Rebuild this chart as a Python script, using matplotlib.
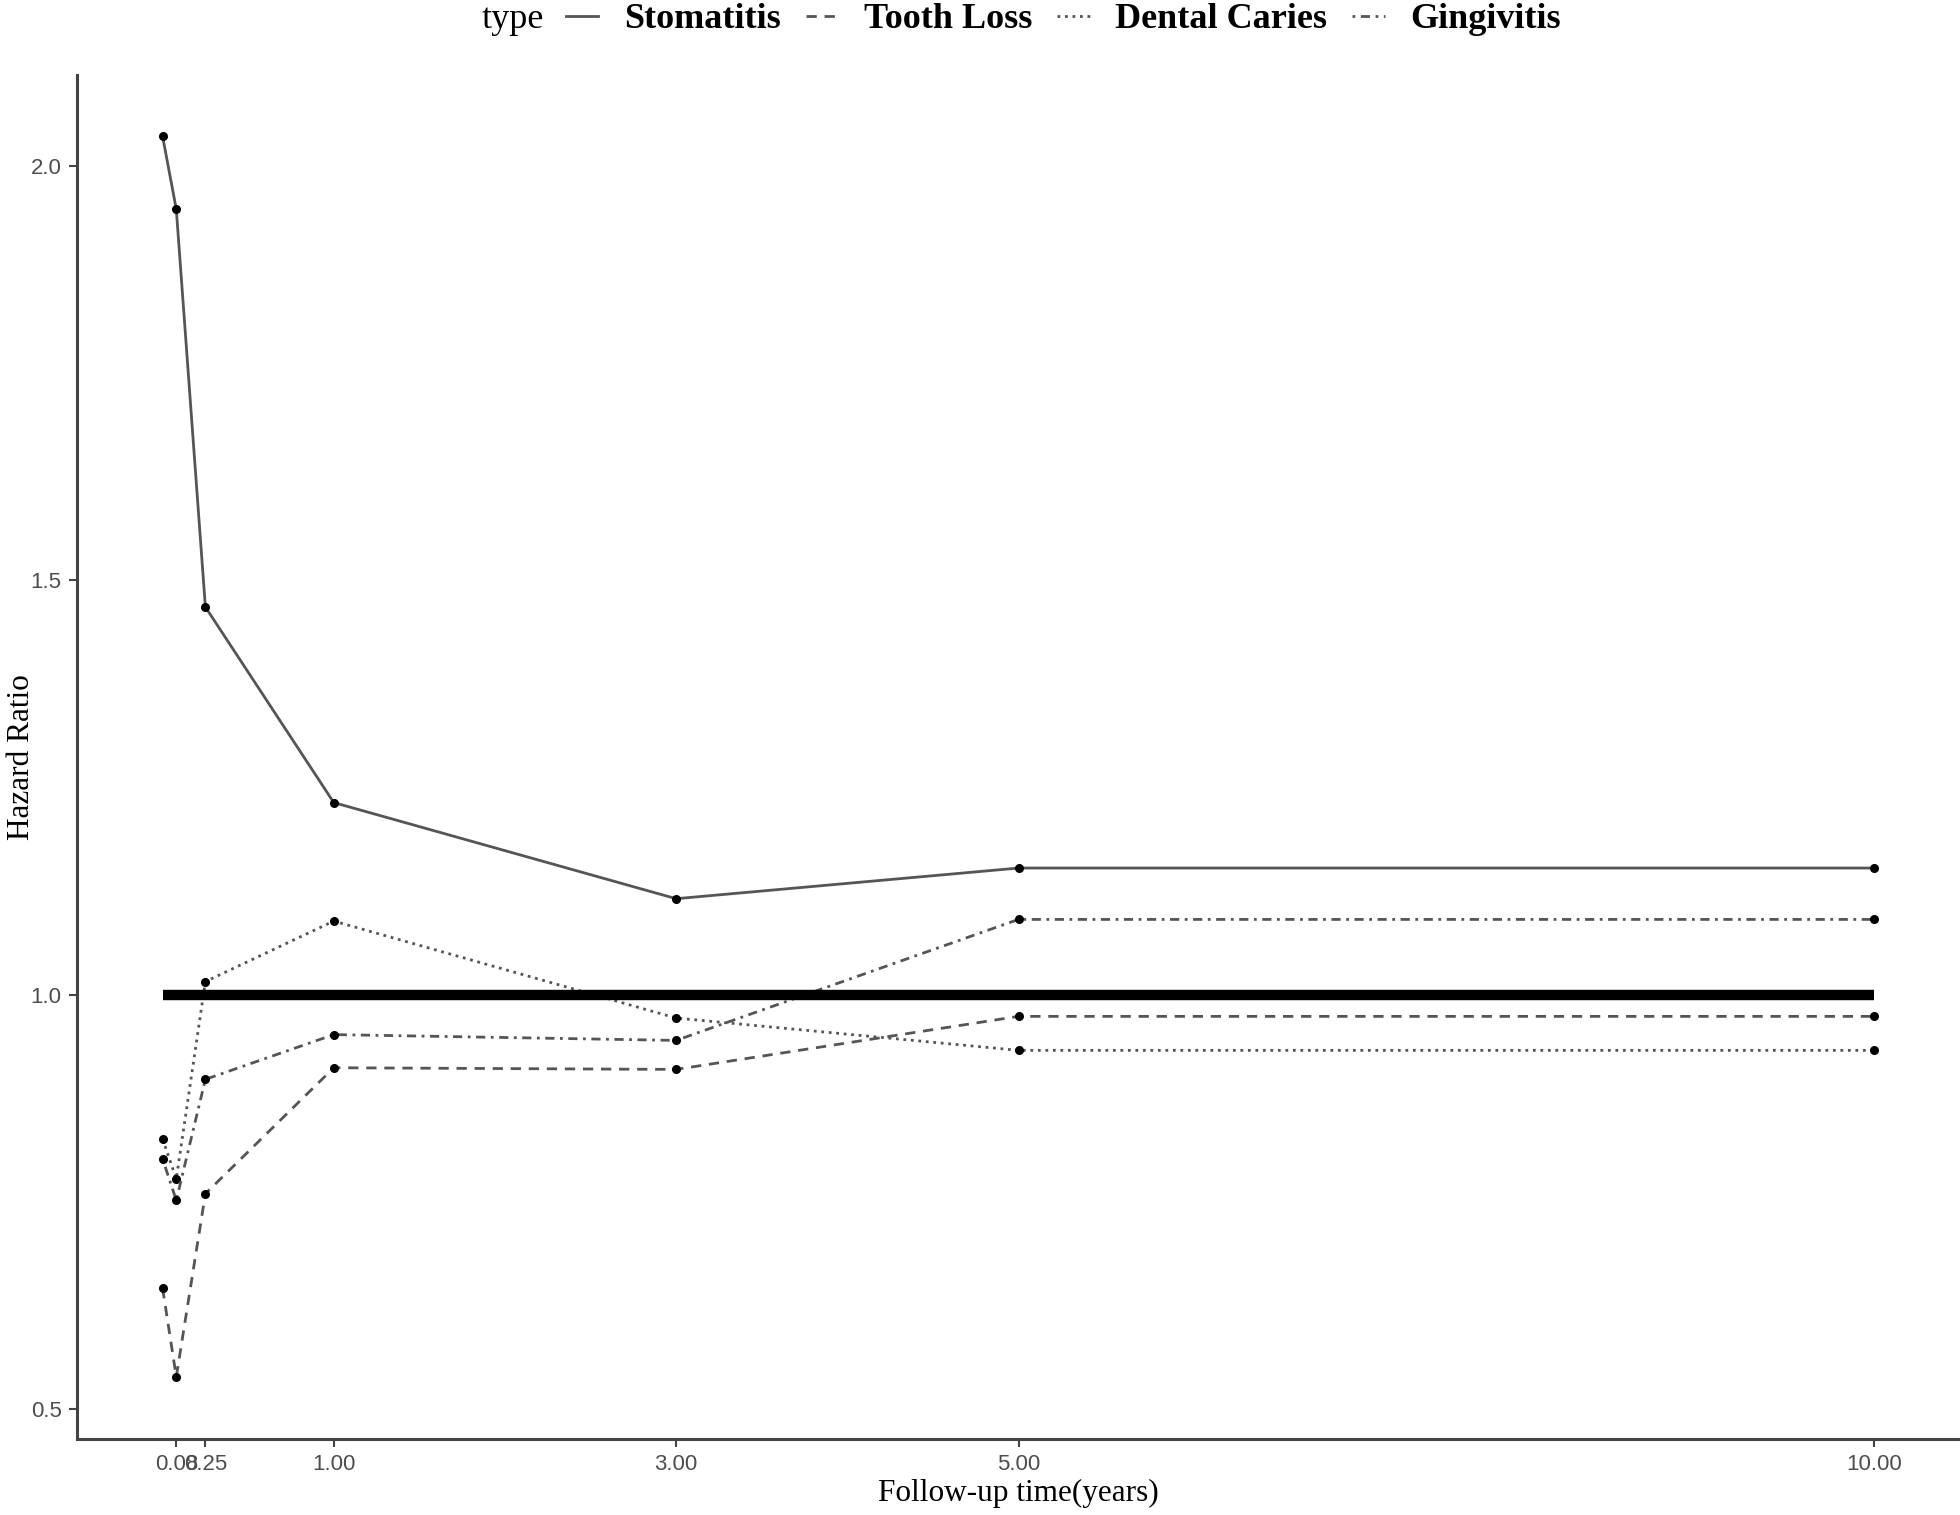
import numpy as np
import matplotlib.pyplot as plt
from matplotlib.lines import Line2D

# follow-up times (years) and hazard ratios per outcome
times = [0.0, 0.08, 0.25, 1.0, 3.0, 5.0, 10.0]
stomatitis = [2.036, 1.948, 1.468, 1.232, 1.116, 1.153, 1.153]
tooth_loss = [0.646, 0.539, 0.760, 0.912, 0.910, 0.974, 0.974]
dental_caries = [0.826, 0.778, 1.016, 1.089, 0.972, 0.933, 0.933]
gingivitis = [0.802, 0.752, 0.898, 0.952, 0.945, 1.091, 1.091]

xticks = [0.08, 0.25, 1.0, 3.0, 5.0, 10.0]
xtick_labels = ['0.08', '0.25', '1.00', '3.00', '5.00', '10.00']
yticks = [0.5, 1.0, 1.5, 2.0]
ref_hr = 1.0

series = [('Stomatitis', stomatitis, '-'),
          ('Tooth Loss', tooth_loss, (0, (3.7, 2.8))),
          ('Dental Caries', dental_caries, (0, (1, 1.7))),
          ('Gingivitis', gingivitis, (0, (1, 2, 3.3, 2)))]

serif = ['Liberation Serif', 'DejaVu Serif']
sans = ['Liberation Sans', 'DejaVu Sans']
line_col = '#555555'

fig = plt.figure(figsize=(19.6, 15.15), dpi=100)
ax = fig.add_axes([77/1960, 1 - 1439/1515, 1 - 77/1960, (1439 - 75)/1515])

for name, vals, ls in series:
    ax.plot(times, vals, color=line_col, linestyle=ls, linewidth=2.0)
    ax.plot(times, vals, linestyle='none', marker='o', markersize=5.5, color='black')

ax.plot([times[0], times[-1]], [ref_hr, ref_hr], color='black', linewidth=7.5,
        solid_capstyle='butt')

ax.set_xlim(-0.5, 10.5)
ax.set_ylim(0.464, 2.11)
ax.set_xticks(xticks)
ax.set_xticklabels(xtick_labels)
ax.set_yticks(yticks)
ax.set_yticklabels(['0.5', '1.0', '1.5', '2.0'])

for s in ['top', 'right']:
    ax.spines[s].set_visible(False)
for s in ['left', 'bottom']:
    ax.spines[s].set_color('#444444')
    ax.spines[s].set_linewidth(2.2)

ax.tick_params(length=6, width=1.5, color='#444444', labelcolor='#4d4d4d',
               labelsize=16, pad=5)
for lab in ax.get_xticklabels() + ax.get_yticklabels():
    lab.set_family(sans)

ax.set_xlabel('Follow-up time(years)', family=serif, fontsize=22.5)
ax.set_ylabel('Hazard Ratio', family=serif, fontsize=22.5)
ax.xaxis.set_label_coords(0.5, -0.029)
ax.yaxis.set_label_coords(-0.022, 0.5)

handles = [Line2D([0], [0], color=line_col, linestyle=ls, linewidth=2.0)
           for _, _, ls in series]
labels = [name for name, _, _ in series]
fig.text(0.2455, 0.987, 'type', family=serif, fontsize=26, va='center', ha='left')
fig.legend(handles, labels, loc='center', bbox_to_anchor=(0.5425, 0.987), ncol=4,
           frameon=False, handlelength=0.9, handletextpad=0.7, columnspacing=0.7,
           prop={'family': serif, 'weight': 'bold', 'size': 26}, borderpad=0)

fig.savefig('out.png', dpi=100)
